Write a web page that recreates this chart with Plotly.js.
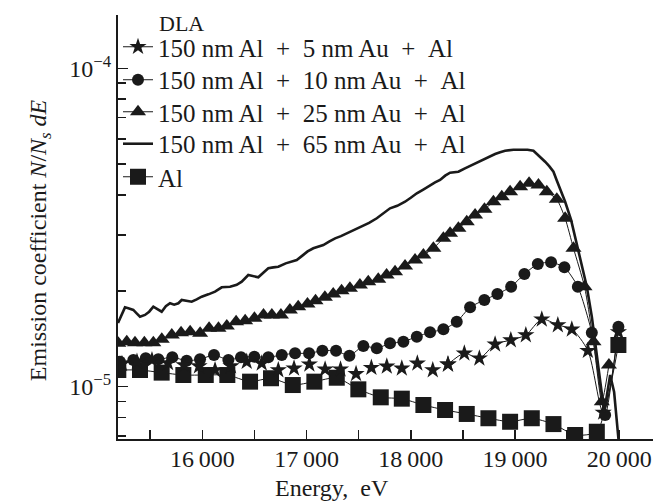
<!DOCTYPE html>
<html><head><meta charset="utf-8">
<script src="https://cdn.plot.ly/plotly-3.0.1.min.js"></script>
<style>html,body{margin:0;padding:0;background:#fff}#chart{width:664px;height:503px}</style>
</head><body><div id="chart"></div>
<script>
// ---- data ----
const starE = [15229,15373,15517,15671,15824,15968,16122,16275,16426,16570,16729,16880,17027,17178,17326,17475,17622,17770,17914,18063,18211,18357,18514,18658,18809,18960,19104,19257,19411,19545,19699,19846,19992];
const starV = [1.18e-5,1.20e-5,1.213e-5,1.187e-5,1.17e-5,1.16e-5,1.128e-5,1.16e-5,1.198e-5,1.184e-5,1.128e-5,1.142e-5,1.176e-5,1.134e-5,1.134e-5,1.097e-5,1.147e-5,1.158e-5,1.142e-5,1.184e-5,1.128e-5,1.175e-5,1.273e-5,1.228e-5,1.359e-5,1.401e-5,1.453e-5,1.628e-5,1.562e-5,1.514e-5,1.297e-5,8.3e-6,1.485e-5];
const circE = [15210,15338,15457,15578,15712,15850,15978,16112,16250,16371,16499,16633,16762,16890,17024,17152,17283,17411,17545,17674,17801,17929,18058,18185,18313,18441,18569,18706,18831,18963,19090,19219,19346,19474,19603,19737,19865,19992];
const circV = [1.198e-5,1.213e-5,1.228e-5,1.219e-5,1.237e-5,1.207e-5,1.219e-5,1.258e-5,1.213e-5,1.237e-5,1.242e-5,1.237e-5,1.258e-5,1.273e-5,1.273e-5,1.297e-5,1.297e-5,1.251e-5,1.342e-5,1.320e-5,1.369e-5,1.385e-5,1.436e-5,1.482e-5,1.514e-5,1.600e-5,1.776e-5,1.872e-5,1.955e-5,2.061e-5,2.259e-5,2.428e-5,2.458e-5,2.371e-5,2.061e-5,1.477e-5,8.15e-6,1.543e-5];
const triE = [15194,15275,15354,15444,15530,15611,15707,15796,15883,15979,16065,16155,16235,16324,16411,16500,16587,16667,16754,16840,16920,17009,17086,17176,17256,17336,17416,17512,17592,17688,17768,17849,17945,18041,18121,18217,18313,18377,18457,18537,18617,18707,18793,18873,18953,19049,19135,19225,19305,19401,19481,19561,19667,19753,19833,19901];
const triV = [1.369e-5,1.385e-5,1.375e-5,1.375e-5,1.375e-5,1.409e-5,1.453e-5,1.477e-5,1.488e-5,1.471e-5,1.525e-5,1.525e-5,1.551e-5,1.600e-5,1.612e-5,1.640e-5,1.680e-5,1.680e-5,1.680e-5,1.742e-5,1.784e-5,1.819e-5,1.863e-5,1.909e-5,1.955e-5,2.002e-5,2.037e-5,2.086e-5,2.137e-5,2.174e-5,2.243e-5,2.297e-5,2.394e-5,2.500e-5,2.592e-5,2.721e-5,2.924e-5,3.032e-5,3.144e-5,3.298e-5,3.462e-5,3.607e-5,3.810e-5,3.951e-5,4.096e-5,4.247e-5,4.353e-5,4.300e-5,4.096e-5,3.878e-5,3.380e-5,2.721e-5,2.061e-5,1.385e-5,8.97e-6,1.170e-5];
const lineE = [15191,15226,15258,15290,15338,15370,15402,15450,15490,15530,15570,15610,15650,15690,15730,15770,15802,15850,15898,15946,15994,16058,16122,16186,16266,16330,16378,16441,16490,16537,16585,16633,16681,16729,16800,16860,16906,16960,17010,17065,17113,17161,17220,17274,17330,17386,17460,17530,17600,17674,17740,17801,17870,17945,18000,18058,18120,18185,18233,18281,18330,18377,18417,18457,18520,18585,18633,18681,18745,18809,18857,18905,18985,19065,19120,19177,19225,19289,19330,19369,19400,19433,19481,19538,19593,19641,19689,19737,19788,19856,19913,19951,19999];
const lineV = [1.585e-5,1.680e-5,1.775e-5,1.762e-5,1.742e-5,1.70e-5,1.659e-5,1.680e-5,1.72e-5,1.784e-5,1.75e-5,1.720e-5,1.79e-5,1.828e-5,1.81e-5,1.828e-5,1.872e-5,1.86e-5,1.849e-5,1.88e-5,1.917e-5,1.95e-5,1.988e-5,2.052e-5,2.061e-5,2.09e-5,2.137e-5,2.243e-5,2.22e-5,2.206e-5,2.28e-5,2.354e-5,2.37e-5,2.381e-5,2.44e-5,2.47e-5,2.500e-5,2.58e-5,2.66e-5,2.721e-5,2.75e-5,2.786e-5,2.86e-5,2.924e-5,2.97e-5,3.032e-5,3.10e-5,3.181e-5,3.27e-5,3.380e-5,3.50e-5,3.633e-5,3.70e-5,3.810e-5,3.92e-5,4.049e-5,4.16e-5,4.300e-5,4.38e-5,4.459e-5,4.60e-5,4.700e-5,4.72e-5,4.734e-5,4.85e-5,4.968e-5,5.06e-5,5.152e-5,5.27e-5,5.380e-5,5.45e-5,5.510e-5,5.55e-5,5.566e-5,5.55e-5,5.510e-5,5.341e-5,5.089e-5,4.92e-5,4.734e-5,4.45e-5,4.198e-5,3.810e-5,3.339e-5,2.821e-5,2.381e-5,2.061e-5,1.659e-5,1.213e-5,8.33e-6,1.088e-5,9.62e-6,6.5e-6];
const alE = [15194,15402,15610,15818,16033,16240,16458,16659,16868,17075,17290,17497,17712,17914,18121,18329,18537,18745,18953,19161,19369,19577,19785,19992];
const alV = [1.128e-5,1.128e-5,1.107e-5,1.088e-5,1.088e-5,1.088e-5,1.037e-5,1.063e-5,1.012e-5,1.037e-5,1.067e-5,9.81e-6,9.26e-6,9.17e-6,8.76e-6,8.45e-6,8.21e-6,7.96e-6,7.76e-6,7.96e-6,7.63e-6,7.05e-6,7.22e-6,1.352e-5];
const S = '\u2002';
const names = ['150 nm Al'+S+'+'+S+'5 nm Au'+S+'+'+S+'Al','150 nm Al'+S+'+'+S+'10 nm Au'+S+'+'+S+'Al','150 nm Al'+S+'+'+S+'25 nm Au'+S+'+'+S+'Al','150 nm Al'+S+'+'+S+'65 nm Au'+S+'+'+S+'Al','Al'];
const legendTitle = 'DLA';
const xTitle = 'Energy,\u2002eV';
const yTitle = 'Emission coefficient <i>N</i>/<i>N</i><sub><i>s</i></sub> <i>dE</i>';
const xTicks = [16000,17000,18000,19000,20000];
const xTickText = ['16\u2009000','17\u2009000','18\u2009000','19\u2009000','20\u2009000'];
const yTicks = [1e-5, 1e-4];
const yTickText = ['10<sup>\u22125</sup>','10<sup>\u22124</sup>'];
const yMinor = [7e-6,8e-6,9e-6,2e-5,3e-5,4e-5,5e-5,6e-5,7e-5,8e-5,9e-5];
// ---- end data ----

const FONT = '"Liberation Serif", "Times New Roman", serif';
const INK = '#1a1a1a';
const starSplit = 21;
const legendIds = ['legend','legend2','legend3','legend4','legend5'];
const rowY = [0.9245, 0.8467, 0.7712, 0.6958, 0.6179];
const traces = [
  {x: starE.slice(starSplit), y: starV.slice(starSplit), name: names[0], mode: 'lines+markers', legend: legendIds[0],
   line:{color:INK, width:1, shape:'spline', smoothing:0.8}, marker:{symbol:'star', size:13, color:INK}},
  {x: circE, y: circV, name: names[1], mode: 'lines+markers', legend: legendIds[1],
   line:{color:INK, width:1, shape:'spline', smoothing:0.6}, marker:{symbol:'circle', size:12, color:INK}},
  {x: triE, y: triV, name: names[2], mode: 'lines+markers', legend: legendIds[2],
   line:{color:INK, width:1, shape:'spline', smoothing:0.6}, marker:{symbol:'triangle-up', size:14, color:INK}},
  {x: lineE, y: lineV, name: names[3], mode: 'lines', legend: legendIds[3],
   line:{color:INK, width:2.6}},
  {x: alE, y: alV, name: names[4], mode: 'lines+markers', legend: legendIds[4],
   line:{color:INK, width:1, shape:'spline', smoothing:0.6}, marker:{symbol:'square', size:16, color:INK}},
  {x: starE.slice(0, starSplit+1), y: starV.slice(0, starSplit+1), name: names[0], mode: 'markers', showlegend:false,
   marker:{symbol:'star', size:13, color:INK}}
];

const layout = {
  width: 664, height: 503,
  margin: {l:118, r:11, t:15, b:64},
  paper_bgcolor:'#fff', plot_bgcolor:'#fff',
  font: {family: FONT, size: 24, color:INK},
  showlegend: true,
  annotations: [
    {text: legendTitle, xref:'paper', yref:'paper', x:0.073, y:0.979, xanchor:'left', yanchor:'middle', showarrow:false,
     font:{family:FONT, size:22, color:INK}},
    {text: yTitle, xref:'paper', yref:'paper',
     x:-0.1458, y:0.469, xanchor:'center', yanchor:'middle', textangle:-90, showarrow:false,
     font:{family:FONT, size:24, color:INK}},
    {text: xTitle, xref:'paper', yref:'paper', x:0.40, y:-0.1156, xanchor:'center', yanchor:'middle', showarrow:false,
     font:{family:FONT, size:24, color:INK}}
  ],
  xaxis: {range:[15191, 20324], showgrid:false, zeroline:false, showline:true, linecolor:INK, linewidth:2,
          ticks:'inside', ticklen:9, tickwidth:1.5, tickcolor:INK, ticklabelstandoff:-3,
          tickmode:'array', tickvals:xTicks, ticktext:xTickText,
          minor:{dtick:500, tick0:15500, ticks:'inside', ticklen:9, tickwidth:1.5, tickcolor:INK, showgrid:false},
          tickfont:{family:FONT, size:24, color:INK}},
  yaxis: {type:'log', range:[-5.1643, -3.8326], showgrid:false, zeroline:false, showline:true, linecolor:INK, linewidth:2,
          ticks:'inside', ticklen:10, tickwidth:1.5, tickcolor:INK,
          tickmode:'array', tickvals:yTicks, ticktext:yTickText,
          minor:{tickmode:'array', tickvals:yMinor, ticks:'inside', ticklen:8, tickwidth:1.5, tickcolor:INK, showgrid:false},
          tickfont:{family:FONT, size:24, color:INK}}
};
legendIds.forEach((id, i) => {
  layout[id] = {x:0, y:rowY[i], xanchor:'left', yanchor:'middle', bgcolor:'rgba(0,0,0,0)',
                font:{family:FONT, size:25, color:INK}};
});
Plotly.newPlot('chart', traces, layout, {displayModeBar:false, staticPlot:true});
</script>
</body></html>
